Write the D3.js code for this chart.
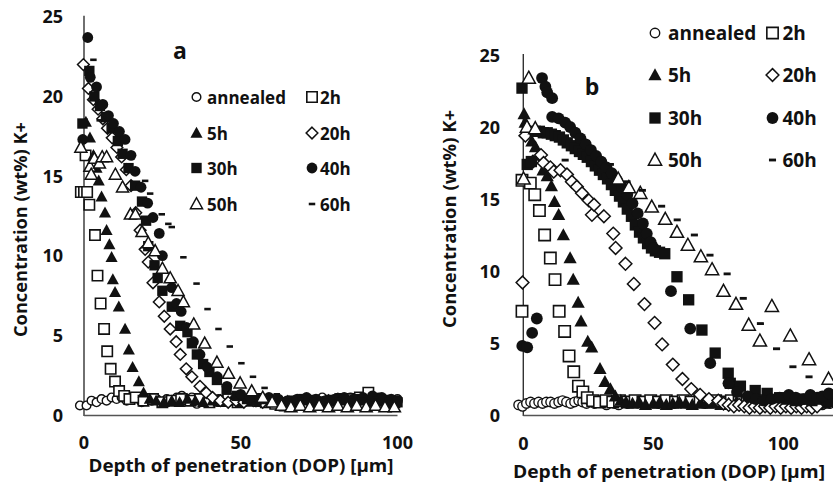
<!DOCTYPE html>
<html>
<head>
<meta charset="utf-8">
<script src="https://cdn.jsdelivr.net/npm/d3@7/dist/d3.min.js"></script>
<style>
  body { margin: 0; background: #fff; }
  text { font-family: "Open Sans", "DejaVu Sans", sans-serif; font-weight: 700; fill: #111; }
</style>
</head>
<body>
<svg id="chart" width="833" height="486"></svg>
<script>
// ---------- data ----------
const seriesNames = ["annealed", "2h", "5h", "20h", "30h", "40h", "50h", "60h"];
const xTicks = [0, 50, 100];
const yTicks = [0, 5, 10, 15, 20, 25];
const xTitle = "Depth of penetration (DOP) [\u03bcm]";
const yTitle = "Concentration (wt%) K+";

// Panel a: [depth µm, K+ wt%]
const aAnnealed = [[-1.3,0.6],[0.8,0.6],[2.4,0.9],[4.0,0.8],[5.6,1.0],[7.2,0.9],[8.8,1.1],[10.4,1.0],[12.0,1.1],[13.6,0.9],[15.2,1.0],[16.8,1.1],[18.4,0.8],[20.0,1.0],[21.6,0.9],[23.2,1.0],[24.8,0.8],[26.4,1.0],[28.0,0.9],[29.6,1.1],[31.2,1.2],[32.8,1.0],[34.4,1.1],[36.0,0.7],[37.6,1.0],[40,0.9],[43,1.0],[46,0.8],[49,0.9],[52,1.0],[55,0.8],[58,0.9],[61,1.0],[64,0.8],[67,0.9],[70,1.0],[73,0.9],[76,1.1],[79,0.9],[82,1.0],[85,1.1],[88,0.9],[91,1.0],[94,1.1],[97,0.9],[100,1.0]];
const a2h = [[0.5,16.3],[-1,14.0],[0,14.0],[1,14.0],[1.7,13.2],[3.5,11.3],[4.3,8.75],[5.3,7.0],[6.4,5.4],[7.4,4.0],[8.5,2.9],[9.9,2.1],[11.2,1.5],[12.8,1.2],[14.5,1.0],[16.5,1.1],[19,0.9],[22,1.0],[25,0.8],[28,0.9],[31,1.0],[34,0.9],[37,1.0],[40,0.8],[43,0.9],[46,1.0],[49,0.8],[52,0.9],[55,1.0],[58,0.8],[61,0.7],[64,0.6],[67,0.8],[70,0.7],[73,0.9],[76,0.8],[79,0.9],[82,1.0],[85,1.0],[88,1.1],[90.7,1.4],[93,1.0],[96,0.9],[99,0.8]];
const a5h = [[0.6,18.4],[1.9,17.4],[3.0,16.3],[4.0,15.5],[4.7,14.7],[5.6,13.7],[6.7,12.7],[7.2,11.6],[8.1,10.7],[8.8,9.9],[9.2,8.5],[9.9,7.7],[11.1,6.8],[13.1,5.4],[14.3,4.1],[15.5,3.0],[17.5,2.1],[19,1.4],[21,1.0],[23,0.9],[25.5,0.8],[28,0.9],[30.5,0.8],[33,1.0],[35.5,0.9],[38,0.8],[41,0.9],[44,0.8],[47,0.9],[50,0.8],[53,0.9],[56,0.8],[59,0.9],[62,0.8],[65,0.9],[68,0.8],[71,0.9],[74,0.8],[77,0.9],[80,1.0],[83,0.9],[86,0.8],[89,0.9],[92,0.8],[95,0.9],[98,0.8]];
const a20h = [[-0.2,22.0],[1.4,20.5],[3,19.8],[4.5,19.2],[6,18.6],[7.5,18.0],[9,17.4],[10.5,16.8],[12,16.2],[13.5,15.4],[15,14.4],[16.5,12.7],[17.9,11.6],[19.5,10.4],[20.5,9.6],[22,8.3],[24,7.1],[25.6,6.2],[27.5,5.4],[29.4,4.6],[30.7,3.8],[32.6,2.9],[34.4,2.4],[37,1.8],[39,1.4],[41,1.1],[43.5,0.9],[46,0.8],[48.5,0.9],[51,0.8],[54,0.9],[57,0.8],[60,0.9],[63,0.8],[66,0.7],[69,0.8],[72,0.9],[75,0.8],[78,0.9],[81,1.0],[84,0.9],[87,0.8],[90,0.9],[93,1.0],[96,0.9],[99,0.8]];
const a30h = [[-0.5,18.3],[1.7,21.6],[3.3,20.0],[5.1,19.4],[7.0,18.7],[8.8,18.0],[10.8,17.2],[12.3,16.4],[14.2,15.5],[16.3,14.4],[18.5,13.4],[19.8,12.2],[20.5,10.6],[22.5,9.4],[23.5,8.6],[25,7.8],[28,6.8],[30.7,5.6],[33,5.2],[34.4,4.5],[36,3.8],[38,3.2],[40,2.7],[42.4,2.2],[45.5,1.6],[48.8,1.2],[52,1.0],[55,0.9],[58,1.0],[61,0.9],[64,0.8],[67,0.9],[70,1.0],[73,0.9],[76,0.8],[79,0.9],[82,1.0],[85,0.9],[88,1.0],[91,0.9],[94,1.0],[97,0.9],[100,0.8]];
const a40h = [[1.2,23.7],[-0.4,17.3],[2,21.2],[4,20.6],[6,19.5],[7.8,18.8],[9.4,18.3],[11.3,17.8],[13.1,17.3],[15,16.3],[16.3,15.3],[18.2,14.3],[20.3,13.3],[22,12.4],[24,11.4],[25,10.0],[28,8.0],[29.5,7.0],[31,6.5],[32.7,5.5],[34.9,4.6],[37,3.8],[39.3,3.0],[42.5,2.4],[45.6,1.8],[50,1.3],[53,1.1],[56,1.0],[59,1.1],[62,1.0],[65,0.9],[68,1.0],[71,1.1],[74,1.0],[77,0.9],[80,1.0],[83,1.1],[86,1.0],[89,1.1],[92,1.2],[95,1.1],[98,1.0],[100,0.9]];
const a50h = [[-1,16.8],[1.9,15.6],[2.3,15.1],[3.3,16.1],[4.9,15.8],[5.8,16.2],[7.2,16.2],[10,15.1],[12.3,14.3],[14.8,12.6],[16.4,12.6],[18.5,11.5],[20.5,10.8],[22.7,10.3],[25,9.2],[27.5,8.6],[30,7.8],[31.7,7.1],[35,5.7],[38.5,4.5],[42.4,3.3],[46.1,2.6],[49.8,2.0],[53.5,1.5],[57,1.1],[60,0.8],[63,0.6],[66,0.5],[69,0.6],[72,0.5],[75,0.6],[78,0.5],[81,0.6],[84,0.5],[87,0.6],[90,0.5],[93,0.6],[96,0.5],[99,0.5]];
const a60h = [[3,22.3],[5,18.5],[19.5,14.7],[21.1,13.9],[24.8,12.6],[26.9,12.0],[28,11.8],[31.7,9.9],[35.9,8.25],[39.4,6.65],[42.9,5.4],[46.5,4.3],[50.2,3.25],[53.9,2.4],[57.6,1.7],[61.5,1.3],[65,1.1],[69,1.0],[73,1.0],[77,1.1],[81,1.0],[85,1.1],[89,1.0],[93,1.1],[97,1.0]];

// Panel b: [depth µm, K+ wt%]
const bAnnealed = [[-1.8,0.7],[-0.3,0.6],[1.2,0.8],[2.8,0.9],[4.3,0.8],[5.9,0.9],[7.4,0.8],[8.9,0.9],[10.5,0.9],[12.0,0.8],[13.6,0.9],[15.1,1.0],[16.6,0.9],[18.2,0.8],[19.7,0.9],[21.3,1.0],[22.8,0.9],[24.3,0.8],[25.9,0.9],[27.4,0.8],[29.0,1.0],[30.5,0.9],[32.0,0.7],[33.6,0.9],[35.1,0.8],[36.7,0.7],[40,0.8],[43,0.9],[46,0.8],[49,0.9],[52,0.8],[55,0.9],[58,0.8],[61,0.9],[64,0.8],[67,0.9],[70,0.8],[73,0.9],[76,0.8],[79,0.7],[82,0.8],[85,0.7],[88,0.8],[91,0.7],[94,0.8],[97,0.7],[100,0.8],[103,0.7],[106,0.8],[109,0.7],[112,0.8],[115,0.7],[118,0.8]];
const b2h = [[-0.5,7.2],[-0.5,16.3],[2.7,16.1],[4.4,15.3],[6.2,14.2],[8.2,12.5],[10.4,10.9],[12.2,9.4],[13.8,7.2],[15.9,5.8],[17.6,4.1],[19.4,3.0],[21.2,2.0],[22.9,1.6],[24.6,1.2],[26.7,1.0],[29.3,0.9],[31.8,1.0],[34.4,0.9],[37,1.0],[40,0.9],[43,1.0],[46,0.9],[49,1.0],[52,0.9],[55,1.0],[58.5,0.9],[61.5,1.0],[64.5,0.9],[68,1.0],[71,0.9],[74,1.0],[77,0.9],[80,1.0],[83,0.9],[86,1.0],[89,0.9],[92,1.0],[95.5,0.9],[98.5,1.0],[101.5,0.9],[105,1.0],[108,0.9],[111,1.0],[114,0.9],[117,1.0]];
const b5h = [[0.3,20.9],[0.7,20.3],[2.1,19.8],[3.3,19.0],[4.7,18.6],[5.9,18.0],[7.6,17.0],[9.2,16.6],[10.8,15.9],[12.0,14.8],[13.6,13.9],[15.4,12.5],[18.0,10.9],[19.2,9.4],[21.1,7.8],[22.2,6.5],[24.8,5.1],[26.3,4.7],[29.5,3.2],[31.4,2.3],[33.5,1.8],[35.4,1.3],[37.5,1.0],[39.5,0.9],[42,0.8],[44.5,0.9],[47,0.7],[50,0.8],[52.5,0.9],[55,0.7],[57.5,0.8],[60,0.9],[62.5,0.8],[65,0.7],[68,0.8],[70.5,0.9],[73,0.8],[76,0.7],[79,0.8],[82,0.9],[85,0.8],[88,0.7],[91.5,0.8],[94.5,0.9],[97.5,0.8],[100.5,0.7],[103.5,0.8],[107,0.9],[110,0.8],[113,0.7],[116,0.8],[119,0.9]];
const b20h = [[-0.3,9.2],[0.8,19.4],[3.7,17.6],[6.8,18.05],[7.8,17.5],[10.4,17.2],[11.7,16.9],[14.3,17.0],[16.8,16.7],[18.7,16.2],[20.6,15.85],[22.6,15.4],[25.2,14.9],[26.4,13.9],[27.2,14.6],[31.0,13.8],[34.6,12.6],[35.5,11.6],[39.3,10.5],[42.5,9.1],[46.6,7.7],[50.5,6.4],[53.4,4.9],[57.5,3.5],[61.2,2.5],[64.6,1.8],[68,1.4],[71.4,1.1],[75,1.0],[77,0.8],[79,0.7],[81,0.6],[83,0.7],[85,0.6],[87,0.5],[89,0.6],[91,0.5],[93,0.6],[95,0.5],[97,0.6],[99,0.5],[101,0.6],[103,0.5],[105,0.6],[107,0.5],[109,0.6],[111,0.5],[113,0.6]];
const b30h = [[-0.5,22.7],[1.5,17.4],[3.1,17.6],[4.6,19.7],[6.2,19.7],[7.7,19.6],[9.2,19.6],[10.8,19.5],[12.3,19.4],[13.9,19.3],[15.4,19.1],[16.9,18.9],[18.5,18.7],[20,18.5],[21.6,18.3],[23.1,18.1],[24.6,17.9],[26.2,17.6],[27.7,17.3],[29.3,17.0],[30.8,16.7],[32.4,16.4],[33.9,16.0],[35.4,15.6],[37,15.2],[38.5,14.8],[40,14.3],[41.6,13.8],[43.1,13.2],[44.7,12.7],[46.2,12.3],[47.8,11.9],[49.3,11.6],[50.8,11.4],[52.4,11.3],[54.4,11.2],[59.1,9.6],[63.6,8.0],[68.7,5.9],[73.8,4.3],[78.8,2.9],[79.6,2.2],[83.5,2.0],[89.2,1.7],[93.8,1.5],[98.6,1.2],[101.7,1.1],[104.8,1.0],[107.8,1.1],[111,1.0],[114,1.1],[117,1.0]];
const b40h = [[-0.4,4.8],[1.5,4.7],[3.4,5.7],[5.2,6.7],[7.2,23.4],[8.5,22.8],[9.2,22.4],[11.1,22.0],[11.1,20.7],[13.6,20.6],[16.1,20.3],[18,20.0],[20,19.6],[22,19.2],[24,18.8],[26,18.4],[28,18.0],[30,17.6],[32,17.2],[34,16.8],[36,16.3],[38,15.8],[40,15.3],[42,14.7],[44,14.0],[46,13.3],[47.5,12.6],[49,12.0],[50.1,11.6],[56.8,8.6],[64.2,6.0],[71.9,3.6],[78.9,2.2],[82.2,1.6],[86.3,1.3],[89.4,1.1],[92.4,1.0],[95.5,1.1],[98.6,1.2],[102.1,1.4],[104.8,1.2],[107.8,1.1],[110.4,1.4],[113,1.2],[115,1.3],[117.5,1.5]];
const b50h = [[0.1,16.4],[2.1,23.4],[1.4,20.0],[4.6,19.9],[36.5,16.4],[40.6,15.8],[45,15.4],[49.4,14.45],[54.6,13.6],[59.1,12.7],[63.3,11.8],[68.3,11.0],[72.6,10.1],[77,8.6],[81.8,7.7],[86.7,6.25],[91,5.15],[95.6,7.55],[102.7,5.5],[109.9,3.85],[117.4,2.5]];
const b60h = [[16.1,17.7],[33.5,17.4],[39.9,16.2],[45.8,15.6],[53.2,14.5],[59.2,13.55],[65.8,12.5],[71.8,11.1],[78.4,9.8],[84.6,8.1],[91.2,6.35],[97.4,4.6],[103.7,3.35],[109.9,2.65]];

// ---------- marker shapes ----------
function markerPath(kind, k) {
  const p = d3.path();
  switch (kind) {
    case "circleSmall": p.arc(0, 0, 4 * k, 0, 2 * Math.PI); break;
    case "circle": p.arc(0, 0, 5 * k, 0, 2 * Math.PI); break;
    case "square": p.rect(-4.8 * k, -4.8 * k, 9.6 * k, 9.6 * k); break;
    case "triangle":
      p.moveTo(0, -5.8 * k); p.lineTo(5.6 * k, 4.4 * k); p.lineTo(-5.6 * k, 4.4 * k); p.closePath(); break;
    case "diamond":
      p.moveTo(0, -5.4 * k); p.lineTo(5.4 * k, 0); p.lineTo(0, 5.4 * k); p.lineTo(-5.4 * k, 0); p.closePath(); break;
    case "dash": p.rect(-3 * k, -1.2 * k, 6 * k, 2.4 * k); break;
  }
  return p.toString();
}
const markerStyle = {
  "annealed": { shape: "circleSmall", fill: "#fff", stroke: "#111", sw: 1.4 },
  "2h":       { shape: "square",      fill: "#fff", stroke: "#111", sw: 1.6 },
  "5h":       { shape: "triangle",    fill: "#111", stroke: "none", sw: 0 },
  "20h":      { shape: "diamond",     fill: "#fff", stroke: "#111", sw: 1.5 },
  "30h":      { shape: "square",      fill: "#111", stroke: "none", sw: 0 },
  "40h":      { shape: "circle",      fill: "#111", stroke: "none", sw: 0 },
  "50h":      { shape: "triangle",    fill: "#fff", stroke: "#111", sw: 1.5 },
  "60h":      { shape: "dash",        fill: "#111", stroke: "none", sw: 0 }
};

function drawMarker(g, name, x, y, k) {
  const s = markerStyle[name];
  g.append("path")
    .attr("d", markerPath(s.shape, k))
    .attr("transform", `translate(${x},${y})`)
    .attr("fill", s.fill)
    .attr("stroke", s.stroke)
    .attr("stroke-width", s.sw);
}

// ---------- panels ----------
const panels = [
  {
    letter: "a",
    series: [aAnnealed, a2h, a5h, a20h, a30h, a40h, a50h, a60h],
    x: d3.scaleLinear().domain([0, 100]).range([84, 397.5]),
    y: d3.scaleLinear().domain([0, 25]).range([415, 16.8]),
    xAxisEnd: 100,
    markScale: 1.08,
    yLabelX: 63, xLabelY: 449,
    xTitle: { cx: 241, y: 471.5, len: 305 },
    yTitle: { x: 27, cy: 229.5, len: 215 },
    letterPos: [180, 58.5],
    legend: { rows: [97, 133, 168, 204], markX: [196.5, 312], textX: [207, 320], size: 17 }
  },
  {
    letter: "b",
    series: [bAnnealed, b2h, b5h, b20h, b30h, b40h, b50h, b60h],
    x: d3.scaleLinear().domain([0, 150]).range([523.3, 913.3]),
    y: d3.scaleLinear().domain([0, 25]).range([415, 55]),
    xAxisEnd: 150,
    markScale: 1.18,
    yLabelX: 500, xLabelY: 450,
    xTitle: { cx: 669, y: 478, len: 312 },
    yTitle: { x: 456, cy: 219, len: 218 },
    letterPos: [592, 95],
    legend: { rows: [33, 75, 118, 160], markX: [655, 772.5], textX: [668, 782.5], size: 19 }
  }
];

const svg = d3.select("#chart");

panels.forEach(pn => {
  const g = svg.append("g").attr("class", "panel-" + pn.letter);
  const { x, y } = pn;

  // axis lines (no tick marks)
  g.append("line")
    .attr("x1", x(0)).attr("x2", x(0))
    .attr("y1", y(25) - 1).attr("y2", y(0) + 1)
    .attr("stroke", "#333").attr("stroke-width", 1.4);
  g.append("line")
    .attr("x1", x(0)).attr("x2", x(pn.xAxisEnd))
    .attr("y1", y(0) + 0.5).attr("y2", y(0) + 0.5)
    .attr("stroke", "#555").attr("stroke-width", 1.6);

  // tick labels
  g.selectAll(".ytl").data(yTicks).join("text")
    .attr("class", "ytl")
    .attr("x", pn.yLabelX).attr("y", d => y(d) + 6.5)
    .attr("text-anchor", "end").attr("font-size", 18)
    .text(d => d);
  g.selectAll(".xtl").data(xTicks).join("text")
    .attr("class", "xtl")
    .attr("x", d => x(d)).attr("y", pn.xLabelY)
    .attr("text-anchor", "middle").attr("font-size", 18)
    .text(d => d);

  // axis titles
  g.append("text")
    .attr("x", pn.xTitle.cx).attr("y", pn.xTitle.y)
    .attr("text-anchor", "middle").attr("font-size", 18)
    .attr("textLength", pn.xTitle.len).attr("lengthAdjust", "spacingAndGlyphs")
    .text(xTitle);
  g.append("text")
    .attr("transform", `translate(${pn.yTitle.x},${pn.yTitle.cy}) rotate(-90)`)
    .attr("text-anchor", "middle").attr("font-size", 17)
    .attr("textLength", pn.yTitle.len).attr("lengthAdjust", "spacingAndGlyphs")
    .text(yTitle);

  // data points, series drawn in order so later ones sit on top
  pn.series.forEach((pts, i) => {
    const name = seriesNames[i];
    const sg = g.append("g").attr("class", "series s-" + name);
    pts.forEach(d => drawMarker(sg, name, x(d[0]), y(d[1]), pn.markScale));
  });

  // panel letter
  g.append("text")
    .attr("x", pn.letterPos[0]).attr("y", pn.letterPos[1])
    .attr("text-anchor", "middle").attr("font-size", 23)
    .text(pn.letter);

  // legend: two columns, four rows
  const lg = g.append("g").attr("class", "legend");
  seriesNames.forEach((name, i) => {
    const row = Math.floor(i / 2), col = i % 2;
    const cy = pn.legend.rows[row];
    drawMarker(lg, name, pn.legend.markX[col], cy, pn.markScale);
    lg.append("text")
      .attr("x", pn.legend.textX[col]).attr("y", cy + 6.5)
      .attr("font-size", pn.legend.size)
      .text(name);
  });
});
</script>
</body>
</html>
